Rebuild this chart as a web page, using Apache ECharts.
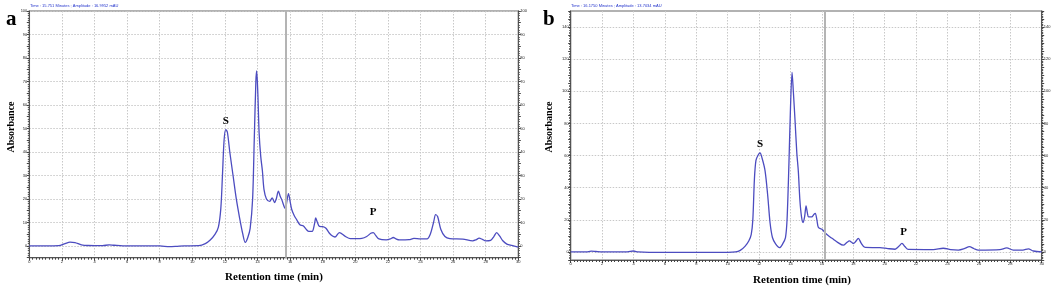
<!DOCTYPE html>
<html>
<head>
<meta charset="utf-8">
<script src="https://cdn.jsdelivr.net/npm/echarts@6/dist/echarts.min.js"></script>
<style>html,body{margin:0;padding:0;background:#fff}#c{width:1058px;height:289px}</style>
</head>
<body>
<div id="c"></div>
<script>
// Panel a chromatogram: [retention time (min), absorbance]
const seriesA = [
 [0,0],[1,0],[1.8,0.1],[2.2,1],[2.5,1.6],[2.8,1.4],[3.2,0.5],[3.6,0.2],[4.5,0.1],[4.9,0.5],[5.2,0.3],[6,0],[8,0],[8.6,-0.3],[9,-0.2],[9.5,0],[10.4,0.1],[10.8,1],[11.1,2.5],[11.4,5],[11.6,8],[11.75,16],[11.85,30],[11.95,45],[12.05,49.5],[12.15,48.5],[12.3,40],[12.5,30],[12.7,20],[12.9,12],[13.1,5],[13.25,1.5],[13.4,3.5],[13.55,7.5],[13.7,20],[13.8,45],[13.9,70],[13.95,74.5],[14.02,65],[14.1,48],[14.2,38],[14.3,32],[14.4,24],[14.55,20],[14.75,19],[14.9,20.5],[15.05,18.5],[15.15,20],[15.28,23.3],[15.4,21],[15.5,19.5],[15.65,16.5],[15.72,16],[15.8,19],[15.9,22.3],[16,19],[16.1,15.5],[16.25,13],[16.4,11.2],[16.6,9],[16.8,8.6],[17,7],[17.15,6.2],[17.35,6.2],[17.5,9.5],[17.57,11.9],[17.65,10.5],[17.8,8.3],[18,8.2],[18.2,7.5],[18.4,5.5],[18.6,4.2],[18.75,3.8],[19.02,5.7],[19.4,4],[19.7,3.1],[20.1,3.1],[20.4,3.2],[20.7,4],[20.95,5.4],[21.1,5.7],[21.25,4.5],[21.45,3],[21.9,2.6],[22.15,3],[22.33,3.6],[22.5,3],[22.7,2.6],[23.3,2.7],[23.6,3.2],[24,3],[24.4,3],[24.6,5],[24.8,10],[24.93,13.3],[25.05,12.5],[25.25,7],[25.5,4],[25.8,3.1],[26.6,2.9],[27.2,2.2],[27.4,2.6],[27.6,3.3],[27.8,2.8],[28,2.2],[28.3,2.4],[28.5,4],[28.67,5.7],[28.85,4.3],[29.05,2.2],[29.3,0.8],[29.6,0.2],[30,-0.5]
];
// Panel b chromatogram
const seriesB = [
 [0,0],[1,0],[1.3,0.5],[1.6,0.3],[2,0],[3.6,0.1],[4,0.6],[4.3,0],[5,-0.3],[10,-0.3],[10.5,0],[10.8,1],[11.1,3.5],[11.35,7],[11.5,11],[11.6,20],[11.7,45],[11.8,57],[11.95,60.5],[12.06,61.6],[12.2,58],[12.38,50.5],[12.55,35],[12.7,18],[12.85,9],[13.05,5],[13.3,2.7],[13.5,5],[13.68,9],[13.78,20],[13.9,55],[14.0,90],[14.1,111.8],[14.18,100],[14.29,81.7],[14.4,62],[14.5,50],[14.6,32],[14.7,22],[14.8,18.3],[14.9,22],[14.99,28.7],[15.08,24],[15.15,21.8],[15.35,21.8],[15.5,23.5],[15.58,24],[15.68,20],[15.78,15.2],[16,14.1],[16.3,11],[16.5,9.5],[16.73,7.9],[17,6],[17.36,4.2],[17.6,6],[17.75,6.9],[17.9,6],[18,5.2],[18.15,6.5],[18.32,8.5],[18.5,5.5],[18.75,2.8],[19.7,2.7],[20.2,2.1],[20.66,1.7],[20.9,3.5],[21.1,5.4],[21.3,3.2],[21.5,1.6],[23.1,1.5],[23.73,2.3],[24.2,1.5],[24.69,1.2],[25.1,2.2],[25.39,3.3],[25.7,2],[25.96,1.2],[27.34,1.5],[27.77,2.5],[28.19,1.2],[28.8,1.2],[29.15,1.9],[29.47,0.6],[30,0]
];
// cursor lines (min)
const cursorA = 15.75;
const cursorB = 16.15;
// peak annotations [label, time, absorbance]
const labelsA = [['S', 12.05, 53], ['P', 21.1, 14.3]];
const labelsB = [['S', 12.06, 67], ['P', 21.2, 12.3]];
const headerA = 'Time : 15.751 Minutes ; Amplitude : 16.9952 mAU';
const headerB = 'Time : 16.1750 Minutes ; Amplitude : 13.7034 mAU';
const xTitle = 'Retention time (min)';
const yTitle = 'Absorbance';

const lineColor = '#4c4cc0';
const serif = '"Liberation Serif", "DejaVu Serif", serif';

function xAx(g) {
  return {
    type: 'value', gridIndex: g, min: 0, max: 30, interval: 2,
    axisLine: {onZero: false, lineStyle: {color: '#555', width: 1}},
    axisTick: {length: 3, lineStyle: {color: '#444'}},
    minorTick: {show: true, splitNumber: 10, length: 2, lineStyle: {color: '#444'}},
    axisLabel: {fontSize: 4, color: '#222', margin: 2, fontFamily: 'Arial'},
    splitLine: {show: true, lineStyle: {color: '#c8c8c8', type: [1.5, 1.5]}}
  };
}
function yAx(g, max, step, pos) {
  const period = step / 5;
  const colors = [];
  for (let i = 0; i < period; i++) colors.push(i === 1 ? '#c8c8c8' : 'rgba(0,0,0,0)');
  return {
    type: 'value', gridIndex: g, min: -5, max: max, interval: 5, position: pos,
    axisLine: {show: true, onZero: false, lineStyle: {color: '#555', width: 1}},
    axisTick: {show: true, length: 2.5, lineStyle: {color: '#444'}},
    minorTick: {show: true, splitNumber: 5, length: 1.5, lineStyle: {color: '#555'}},
    axisLabel: {fontSize: 4, color: '#222', margin: 2, fontFamily: 'Arial',
      formatter: v => (v >= 0 && v % step === 0 && v < max + 0.01 && !(max % step !== 0 && v > max - 5)) ? String(v) : ''},
    splitLine: {show: pos === 'left', lineStyle: {color: colors, type: [1.5, 1.5]}}
  };
}
function mp(labels) {
  return {
    symbol: 'circle', symbolSize: 1, itemStyle: {color: 'rgba(0,0,0,0)'},
    label: {show: true, position: 'inside', color: '#000', fontFamily: serif, fontWeight: 'bold', fontSize: 11,
      formatter: p => p.name},
    data: labels.map(l => ({name: l[0], coord: [l[1], l[2]]}))
  };
}
function ml(x) {
  return {
    silent: true, symbol: 'none', label: {show: false},
    lineStyle: {color: '#b4b4b4', width: 2, type: 'solid'},
    data: [{xAxis: x}]
  };
}

const chart = echarts.init(document.getElementById('c'), null, {renderer: 'canvas'});
chart.setOption({
  animation: false,
  backgroundColor: '#fff',
  grid: [
    {left: 29.3, top: 11, width: 489, height: 246.7, show: true, borderColor: '#999', borderWidth: 1.5},
    {left: 570.7, top: 11, width: 471, height: 249, show: true, borderColor: '#999', borderWidth: 1.5}
  ],
  xAxis: [xAx(0), xAx(1)],
  yAxis: [yAx(0, 100, 10, 'left'), yAx(0, 100, 10, 'right'), yAx(1, 150, 20, 'left'), yAx(1, 150, 20, 'right')],
  series: [
    {type: 'line', xAxisIndex: 0, yAxisIndex: 0, data: seriesA, showSymbol: false, smooth: 0.3,
     lineStyle: {color: lineColor, width: 1.3}, markLine: ml(cursorA), markPoint: mp(labelsA), z: 3},
    {type: 'line', xAxisIndex: 1, yAxisIndex: 2, data: seriesB, showSymbol: false, smooth: 0.3,
     lineStyle: {color: lineColor, width: 1.3}, markLine: ml(cursorB), markPoint: mp(labelsB), z: 3}
  ],
  graphic: [
    {type: 'text', left: 6, top: 9, style: {text: 'a', font: 'bold 21px ' + serif, fill: '#000'}},
    {type: 'text', left: 543, top: 9, style: {text: 'b', font: 'bold 21px ' + serif, fill: '#000'}},
    {type: 'text', x: 11.5, y: 127, rotation: Math.PI / 2, style: {text: yTitle, font: 'bold 10px ' + serif, fill: '#000', align: 'center', verticalAlign: 'middle'}},
    {type: 'text', x: 549, y: 127, rotation: Math.PI / 2, style: {text: yTitle, font: 'bold 10px ' + serif, fill: '#000', align: 'center', verticalAlign: 'middle'}},
    {type: 'text', x: 274, y: 277, style: {text: xTitle, font: 'bold 11px ' + serif, fill: '#000', align: 'center', verticalAlign: 'middle'}},
    {type: 'text', x: 802, y: 280, style: {text: xTitle, font: 'bold 11px ' + serif, fill: '#000', align: 'center', verticalAlign: 'middle'}},
    {type: 'text', x: 30, y: 6, style: {text: headerA, font: '4px Arial', fill: '#2233cc', verticalAlign: 'middle'}},
    {type: 'text', x: 571, y: 6, style: {text: headerB, font: '4px Arial', fill: '#2233cc', verticalAlign: 'middle'}}
  ]
});
</script>
</body>
</html>
